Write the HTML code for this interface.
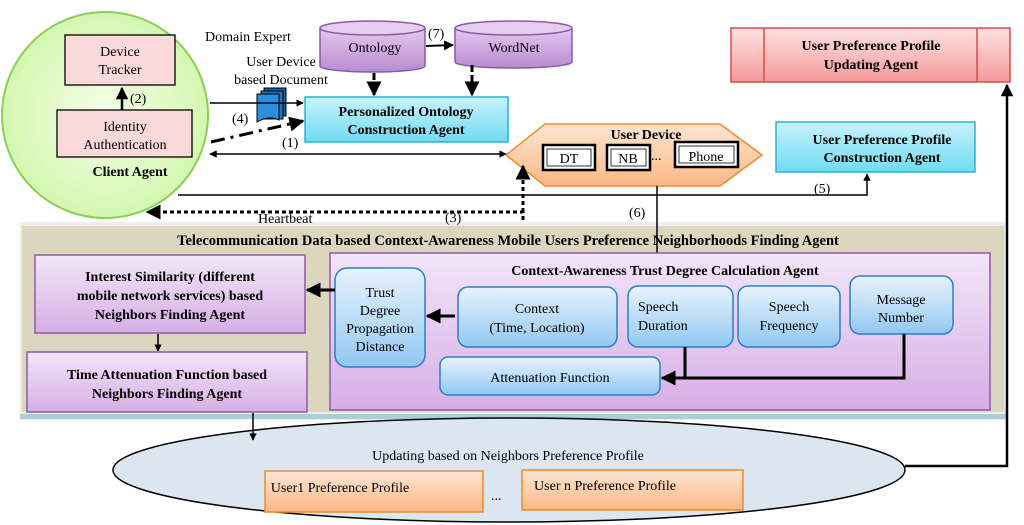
<!DOCTYPE html>
<html><head><meta charset="utf-8"><style>
html,body{margin:0;padding:0;background:#fff}
svg{display:block}
text{font-family:"Liberation Serif",serif;fill:#000}
.b{font-weight:bold}
.n{font-family:"Liberation Sans Narrow","Liberation Serif",serif}
</style></head><body>
<svg width="1024" height="525" viewBox="0 0 1024 525" xmlns="http://www.w3.org/2000/svg">
<defs>
<radialGradient id="gC" cx="0.5" cy="0.5" r="0.6"><stop offset="0" stop-color="#f6ffe8"/><stop offset="1" stop-color="#ccf5a5"/></radialGradient>
<linearGradient id="gCy" x1="0" y1="0" x2="0" y2="1"><stop offset="0" stop-color="#c9f3fc"/><stop offset="1" stop-color="#6fdcf2"/></linearGradient>
<linearGradient id="gP" x1="0" y1="0" x2="0" y2="1"><stop offset="0" stop-color="#f3e6f8"/><stop offset="1" stop-color="#d6aee5"/></linearGradient>
<linearGradient id="gB" x1="0" y1="0" x2="0" y2="1"><stop offset="0" stop-color="#e8f3fd"/><stop offset="1" stop-color="#92c7f2"/></linearGradient>
<linearGradient id="gO" x1="0" y1="0" x2="0" y2="1"><stop offset="0" stop-color="#fde6d3"/><stop offset="1" stop-color="#fab884"/></linearGradient>
<linearGradient id="gR" x1="0" y1="0" x2="0" y2="1"><stop offset="0" stop-color="#fde2e2"/><stop offset="1" stop-color="#f59a9a"/></linearGradient>
<linearGradient id="gV" x1="0" y1="0" x2="0" y2="1"><stop offset="0" stop-color="#e4c9ee"/><stop offset="1" stop-color="#b98bd0"/></linearGradient>
<marker id="a" viewBox="0 0 10 10" refX="9" refY="5" markerWidth="5" markerHeight="5" orient="auto-start-reverse"><path d="M0,0L10,5L0,10z" fill="#000"/></marker>
</defs>

<rect x="20" y="222" width="986" height="198" fill="#eeeeee"/>
<rect x="22" y="226" width="982" height="186" fill="#ddd6bf"/>
<rect x="20" y="414" width="986" height="5" fill="#a9cfd6"/>
<text x="508" y="245" text-anchor="middle" class="b n" font-size="14.5">Telecommunication Data based Context-Awareness Mobile Users Preference Neighborhoods Finding Agent</text>

<circle cx="105" cy="115" r="103" fill="url(#gC)" stroke="#8ccf55" stroke-width="2"/>
<rect x="65" y="35" width="110" height="50" fill="#f9d9d9" stroke="#000" stroke-width="1.3"/>
<text x="120" y="56" text-anchor="middle" font-size="14">Device</text>
<text x="120" y="74" text-anchor="middle" font-size="14">Tracker</text>
<rect x="57" y="110" width="135" height="47" fill="#f9d9d9" stroke="#000" stroke-width="1.3"/>
<text x="125" y="131" text-anchor="middle" font-size="14">Identity</text>
<text x="125" y="149" text-anchor="middle" font-size="14">Authentication</text>
<line x1="122" y1="110" x2="122" y2="88" stroke="#000" stroke-width="2.5" marker-end="url(#a)"/>
<text x="130" y="103" font-size="14">(2)</text>
<text x="130" y="176" text-anchor="middle" class="b" font-size="14">Client Agent</text>

<text x="205" y="41" font-size="14">Domain Expert</text>
<text x="281" y="66" text-anchor="middle" font-size="14">User Device</text>
<text x="281" y="84" text-anchor="middle" font-size="14">based Document</text>
<rect x="264" y="88" width="22" height="28" fill="#1a5fa8" stroke="#000"/>
<rect x="261" y="91" width="22" height="28" fill="#1c74c4" stroke="#000"/>
<path d="M257,94h22v26q-10,-5 -22,2z" fill="#2b8fe0" stroke="#000"/>
<line x1="210" y1="103" x2="303" y2="103" stroke="#000" stroke-width="1.5" marker-end="url(#a)"/>
<line x1="211" y1="142" x2="303" y2="121" stroke="#000" stroke-width="3" stroke-dasharray="14,6,3,6" marker-end="url(#a)"/>
<text x="232" y="123" font-size="14">(4)</text>
<text x="282" y="147" font-size="14">(1)</text>

<rect x="305" y="97" width="203" height="45" fill="url(#gCy)" stroke="#2bb3cf" stroke-width="1.5"/>
<text x="406" y="116" text-anchor="middle" class="b" font-size="14">Personalized Ontology</text>
<text x="406" y="134" text-anchor="middle" class="b" font-size="14">Construction Agent</text>

<path d="M320,28v38a52,6 0 0 0 105,0v-38" fill="url(#gV)" stroke="#8b5aa8" stroke-width="1.5"/>
<ellipse cx="372.5" cy="28" rx="52.5" ry="7" fill="#e6cdef" stroke="#8b5aa8" stroke-width="1.5"/>
<text x="375" y="52" text-anchor="middle" font-size="14">Ontology</text>
<path d="M455,28v34a58,6 0 0 0 117,0v-34" fill="url(#gV)" stroke="#8b5aa8" stroke-width="1.5"/>
<ellipse cx="513.5" cy="28" rx="58.5" ry="7" fill="#e6cdef" stroke="#8b5aa8" stroke-width="1.5"/>
<text x="514" y="52" text-anchor="middle" font-size="14">WordNet</text>
<line x1="426" y1="46" x2="453" y2="45" stroke="#000" stroke-width="2" marker-end="url(#a)"/>
<text x="428" y="38" font-size="14">(7)</text>
<line x1="374" y1="73" x2="374" y2="95" stroke="#000" stroke-width="3" stroke-dasharray="7,3" marker-end="url(#a)"/>
<line x1="472" y1="65" x2="472" y2="95" stroke="#000" stroke-width="3" stroke-dasharray="7,3" marker-end="url(#a)"/>

<line x1="210" y1="154" x2="506" y2="154" stroke="#000" stroke-width="1.5" marker-start="url(#a)" marker-end="url(#a)"/>

<path d="M506,155L545,124H720L762,155L720,186H545z" fill="url(#gO)" stroke="#f08a2c" stroke-width="1.5"/>
<text x="646" y="139" text-anchor="middle" class="b" font-size="14">User Device</text>
<rect x="543" y="145" width="52" height="25" fill="#fff" stroke="#000" stroke-width="2.5"/>
<rect x="547" y="149" width="44" height="17" fill="none" stroke="#000" stroke-width="0.8"/>
<text x="569" y="163" text-anchor="middle" font-size="14">DT</text>
<rect x="607" y="145" width="43" height="25" fill="#fff" stroke="#000" stroke-width="2.5"/>
<rect x="611" y="149" width="35" height="17" fill="none" stroke="#000" stroke-width="0.8"/>
<text x="628" y="163" text-anchor="middle" font-size="14">NB</text>
<text x="651" y="160" font-size="14">...</text>
<rect x="675" y="142" width="63" height="25" fill="#fff" stroke="#000" stroke-width="2.5"/>
<rect x="679" y="146" width="55" height="17" fill="none" stroke="#000" stroke-width="0.8"/>
<text x="706" y="161" text-anchor="middle" font-size="14">Phone</text>

<rect x="776" y="122" width="199" height="50" fill="url(#gCy)" stroke="#2bb3cf" stroke-width="1.5"/>
<text x="882" y="144" text-anchor="middle" class="b" font-size="14">User Preference Profile</text>
<text x="882" y="162" text-anchor="middle" class="b" font-size="14">Construction Agent</text>
<rect x="731" y="28" width="279" height="54" fill="url(#gR)" stroke="#e04848" stroke-width="1.5"/>
<line x1="764" y1="28" x2="764" y2="82" stroke="#e04848" stroke-width="1.5"/>
<line x1="977" y1="28" x2="977" y2="82" stroke="#e04848" stroke-width="1.5"/>
<text x="871" y="50" text-anchor="middle" class="b" font-size="14">User Preference Profile</text>
<text x="871" y="69" text-anchor="middle" class="b" font-size="14">Updating Agent</text>

<polyline points="178,195 867,195 867,174" fill="none" stroke="#000" stroke-width="1.5" marker-end="url(#a)"/>
<text x="814" y="193" font-size="14">(5)</text>
<polyline points="523,220 523,212 147,212" fill="none" stroke="#000" stroke-width="3" stroke-dasharray="4,3" marker-end="url(#a)"/>
<line x1="523" y1="212" x2="523" y2="166" stroke="#000" stroke-width="3" stroke-dasharray="4,3" marker-end="url(#a)"/>
<text x="258" y="223" font-size="14">Heartbeat</text>
<text x="445" y="222" font-size="14">(3)</text>
<text x="629" y="217" font-size="14">(6)</text>
<line x1="657" y1="186" x2="657" y2="254" stroke="#000" stroke-width="1.5"/>

<polyline points="905,466 1007,466 1007,85" fill="none" stroke="#000" stroke-width="2.5" marker-end="url(#a)"/>

<rect x="35" y="255" width="270" height="78" fill="url(#gP)" stroke="#8b5aa8" stroke-width="1.5"/>
<text x="170" y="281" text-anchor="middle" class="b n" font-size="14">Interest Similarity (different</text>
<text x="170" y="300" text-anchor="middle" class="b n" font-size="14">mobile network services) based</text>
<text x="170" y="319" text-anchor="middle" class="b n" font-size="14">Neighbors Finding Agent</text>
<line x1="158" y1="334" x2="158" y2="351" stroke="#000" stroke-width="1.5" marker-end="url(#a)"/>
<rect x="27" y="352" width="280" height="60" fill="url(#gP)" stroke="#8b5aa8" stroke-width="1.5"/>
<text x="167" y="379" text-anchor="middle" class="b n" font-size="14">Time Attenuation Function based</text>
<text x="167" y="398" text-anchor="middle" class="b n" font-size="14">Neighbors Finding Agent</text>

<rect x="330" y="253" width="660" height="157" fill="url(#gP)" stroke="#8b5aa8" stroke-width="1.5"/>
<text x="665" y="275" text-anchor="middle" class="b n" font-size="14">Context-Awareness Trust Degree Calculation Agent</text>
<rect x="335" y="268" width="90" height="99" rx="12" fill="url(#gB)" stroke="#2a7fd0" stroke-width="1.5"/>
<text x="380" y="297" text-anchor="middle" font-size="14">Trust</text>
<text x="380" y="315" text-anchor="middle" font-size="14">Degree</text>
<text x="380" y="333" text-anchor="middle" font-size="14">Propagation</text>
<text x="380" y="351" text-anchor="middle" font-size="14">Distance</text>
<line x1="335" y1="290" x2="307" y2="290" stroke="#000" stroke-width="3" marker-end="url(#a)"/>
<rect x="458" y="287" width="159" height="60" rx="10" fill="url(#gB)" stroke="#2a7fd0" stroke-width="1.5"/>
<text x="537" y="313" text-anchor="middle" font-size="14">Context</text>
<text x="537" y="332" text-anchor="middle" font-size="14">(Time, Location)</text>
<line x1="455" y1="316" x2="427" y2="316" stroke="#000" stroke-width="3" marker-end="url(#a)"/>
<rect x="628" y="286" width="105" height="61" rx="10" fill="url(#gB)" stroke="#2a7fd0" stroke-width="1.5"/>
<text x="638" y="311" font-size="14">Speech</text>
<text x="638" y="330" font-size="14">Duration</text>
<rect x="738" y="286" width="102" height="61" rx="10" fill="url(#gB)" stroke="#2a7fd0" stroke-width="1.5"/>
<text x="789" y="311" text-anchor="middle" font-size="14">Speech</text>
<text x="789" y="330" text-anchor="middle" font-size="14">Frequency</text>
<rect x="850" y="276" width="103" height="58" rx="10" fill="url(#gB)" stroke="#2a7fd0" stroke-width="1.5"/>
<text x="901" y="304" text-anchor="middle" font-size="14">Message</text>
<text x="901" y="322" text-anchor="middle" font-size="14">Number</text>
<rect x="440" y="357" width="220" height="38" rx="8" fill="url(#gB)" stroke="#2a7fd0" stroke-width="1.5"/>
<text x="550" y="382" text-anchor="middle" font-size="14">Attenuation Function</text>
<polyline points="904,334 904,378 662,378" fill="none" stroke="#000" stroke-width="3" marker-end="url(#a)"/>
<line x1="685" y1="347" x2="685" y2="378" stroke="#000" stroke-width="3"/>

<ellipse cx="509" cy="470" rx="396" ry="52" fill="#dbe6f1" stroke="#000" stroke-width="1.5"/>
<line x1="253" y1="413" x2="253" y2="440" stroke="#000" stroke-width="1.5" marker-end="url(#a)"/>
<text x="508" y="460" text-anchor="middle" class="n" font-size="14">Updating based on Neighbors Preference Profile</text>
<rect x="265" y="471" width="218" height="41" fill="url(#gO)" stroke="#f08a2c" stroke-width="1.5"/>
<text x="340" y="492" text-anchor="middle" class="n" font-size="14">User1 Preference Profile</text>
<text x="491" y="500" font-size="14">...</text>
<rect x="522" y="470" width="221" height="40" fill="url(#gO)" stroke="#f08a2c" stroke-width="1.5"/>
<text x="605" y="490" text-anchor="middle" class="n" font-size="14">User n Preference Profile</text>
</svg>
</body></html>
